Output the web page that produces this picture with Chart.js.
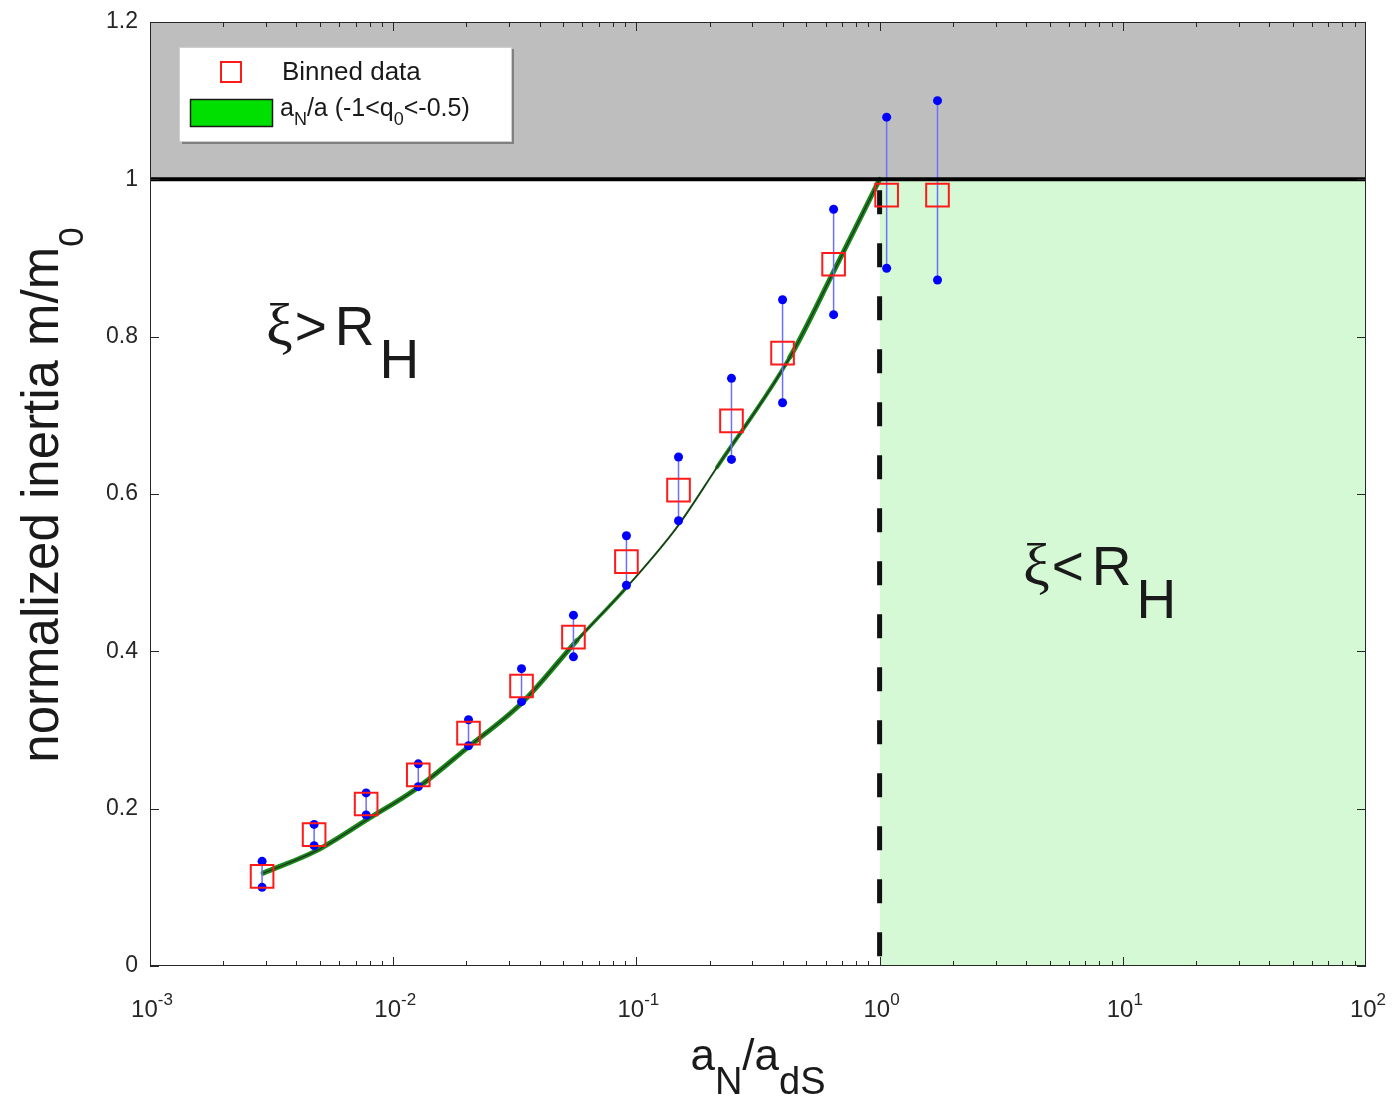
<!DOCTYPE html>
<html lang="en">
<head>
<meta charset="utf-8">
<title>normalized inertia vs a_N/a_dS</title>
<script src="https://cdn.jsdelivr.net/npm/chart.js@4.4.1/dist/chart.umd.min.js"></script>
<style>
  body { margin: 0; background: #fff; }
  #plot { display: block; }
</style>
</head>
<body>
<canvas id="plot" width="1392" height="1102"></canvas>

<script>
  // binned measurements (x = a_N/a_dS, y = m/m0) with error bar ends
  var binX  = [0.00289, 0.00473, 0.00774, 0.01268, 0.0204, 0.0337, 0.0551, 0.0910, 0.149, 0.246, 0.399, 0.647, 1.069, 1.73];
  var binY  = [0.114, 0.167, 0.206, 0.243, 0.296, 0.356, 0.418, 0.514, 0.605, 0.693, 0.779, 0.892, 0.980, 0.980];
  var binHi = [0.133, 0.180, 0.220, 0.257, 0.313, 0.378, 0.446, 0.547, 0.647, 0.747, 0.847, 0.962, 1.079, 1.100];
  var binLo = [0.100, 0.153, 0.192, 0.228, 0.280, 0.336, 0.393, 0.484, 0.566, 0.644, 0.716, 0.828, 0.887, 0.872];

  // model curve a_N/a for -1 < q0 < -0.5
  var curveX = [0.00292, 0.00486, 0.0078, 0.01253, 0.0201, 0.0342, 0.057, 0.0915, 0.1469, 0.2145, 0.428, 0.643, 1.0];
  var curveY = [0.118, 0.147, 0.186, 0.226, 0.277, 0.336, 0.414, 0.482, 0.558, 0.634, 0.774, 0.881, 1.0];

  // axis ticks
  var xTicks = [1e-3, 1e-2, 1e-1, 1, 10, 100];
  var xTickExp = ['-3', '-2', '-1', '0', '1', '2'];
  var yTicks = [0, 0.2, 0.4, 0.6, 0.8, 1, 1.2];
  var yTickLabels = ['0', '0.2', '0.4', '0.6', '0.8', '1', '1.2'];

  var FONT = '"Liberation Sans", Arial, Helvetica, sans-serif';
  var AXIS_COLOR = '#262626';

  function pts(xs, ys) {
    return xs.map(function (v, i) { return { x: v, y: ys[i] }; });
  }

  // error bars: lo/hi pairs separated by gaps
  var errData = [];
  for (var i = 0; i < binX.length; i++) {
    errData.push({ x: binX[i], y: binLo[i] });
    errData.push({ x: binX[i], y: binHi[i] });
    errData.push({ x: binX[i], y: null });
  }

  // green band is wide where the q0 curves split, narrow where they meet
  function bandWidth(x) {
    if (x < 0.04) return 5;
    if (x < 0.07) return 3.5;
    if (x < 0.2) return 2;
    if (x < 0.3) return 4;
    return 5;
  }

  // draw a row of text pieces (for sub/superscripts), returns end x
  function runs(ctx, x, y, parts, measureOnly) {
    parts.forEach(function (p) {
      ctx.font = p.font;
      if (!measureOnly) ctx.fillText(p.t, x, y + (p.dy || 0));
      x += ctx.measureText(p.t).width + (p.gap || 0);
    });
    return x;
  }

  var axesPlugin = {
    id: 'matlabAxes',
    afterDatasetsDraw: function (chart) {
      var ctx = chart.ctx, a = chart.chartArea, xs = chart.scales.x, ys = chart.scales.y;
      ctx.save();
      ctx.strokeStyle = AXIS_COLOR;
      ctx.lineWidth = 1;

      // box
      ctx.strokeRect(a.left + 0.5, a.top + 0.5, a.right - a.left - 1, a.bottom - a.top - 1);

      ctx.beginPath();
      // x major + minor ticks, bottom and top, pointing inward
      for (var d = -3; d < 2; d++) {
        for (var m = 1; m <= 9; m++) {
          var px = Math.round(xs.getPixelForValue(m * Math.pow(10, d))) + 0.5;
          var len = m === 1 ? 9 : 5;
          ctx.moveTo(px, a.bottom); ctx.lineTo(px, a.bottom - len);
          ctx.moveTo(px, a.top); ctx.lineTo(px, a.top + len);
        }
      }
      // y ticks, left and right
      yTicks.forEach(function (v) {
        var py = Math.round(ys.getPixelForValue(v)) + 0.5;
        ctx.moveTo(a.left, py); ctx.lineTo(a.left + 9, py);
        ctx.moveTo(a.right, py); ctx.lineTo(a.right - 9, py);
      });
      ctx.stroke();

      // tick labels
      ctx.fillStyle = AXIS_COLOR;
      ctx.textBaseline = 'middle';
      ctx.textAlign = 'right';
      ctx.font = '23px ' + FONT;
      yTicks.forEach(function (v, i) {
        ctx.fillText(yTickLabels[i], a.left - 12, ys.getPixelForValue(v));
      });

      ctx.textBaseline = 'alphabetic';
      ctx.textAlign = 'left';
      xTicks.forEach(function (v, i) {
        var parts = [
          { t: '10', font: '24px ' + FONT },
          { t: xTickExp[i], font: '17px ' + FONT, dy: -12 }
        ];
        var w = runs(ctx, 0, 0, parts, true);
        runs(ctx, xs.getPixelForValue(v) - w / 2 + 2, 1017, parts);
      });
      ctx.restore();
    },
    afterDraw: function (chart) {
      var ctx = chart.ctx;
      ctx.save();
      ctx.fillStyle = '#1a1a1a';
      ctx.textAlign = 'left';
      ctx.textBaseline = 'alphabetic';

      // x axis title a_N/a_dS
      var xt = [
        { t: 'a', font: '44px ' + FONT },
        { t: 'N', font: '38px ' + FONT, dy: 24 },
        { t: '/a', font: '44px ' + FONT },
        { t: 'dS', font: '38px ' + FONT, dy: 24 }
      ];
      var xw = runs(ctx, 0, 0, xt, true);
      runs(ctx, 758 - xw / 2, 1070, xt);

      // y axis title
      var yt = [
        { t: 'normalized inertia m/m', font: '51px ' + FONT },
        { t: '0', font: '35px ' + FONT, dy: 25 }
      ];
      var yw = runs(ctx, 0, 0, yt, true);
      ctx.save();
      ctx.translate(58, 495);
      ctx.rotate(-Math.PI / 2);
      runs(ctx, -yw / 2, 0, yt);
      ctx.restore();

      // region labels
      function region(x, y, rel) {
        runs(ctx, x, y, [
          { t: '\u03BE', font: '60px "Liberation Serif", serif', gap: 2 },
          { t: rel, font: '55px ' + FONT, gap: 8 },
          { t: 'R', font: '55px ' + FONT, gap: 5 },
          { t: 'H', font: '55px ' + FONT, dy: 33 }
        ]);
      }
      region(266, 345, '>');
      region(1023, 585, '<');

      // legend box
      ctx.fillStyle = '#808080';
      ctx.fillRect(182, 141, 332, 3);
      ctx.fillRect(511, 49, 3, 95);
      ctx.fillStyle = '#ffffff';
      ctx.fillRect(179, 47, 333, 95);
      ctx.strokeStyle = '#cfcfcf';
      ctx.lineWidth = 1;
      ctx.strokeRect(179.5, 47.5, 332, 94);

      ctx.strokeStyle = '#ff1a1a';
      ctx.lineWidth = 2;
      ctx.strokeRect(221, 62, 20, 20);

      ctx.fillStyle = '#00e000';
      ctx.fillRect(190, 99, 83, 28);
      ctx.strokeStyle = '#1a1a1a';
      ctx.lineWidth = 1.5;
      ctx.strokeRect(190.5, 99.5, 82, 27);

      ctx.fillStyle = '#1a1a1a';
      runs(ctx, 282, 80, [{ t: 'Binned data', font: '26px ' + FONT }]);
      runs(ctx, 280, 116, [
        { t: 'a', font: '25px ' + FONT },
        { t: 'N', font: '18px ' + FONT, dy: 9 },
        { t: '/a (-1<q', font: '25px ' + FONT },
        { t: '0', font: '18px ' + FONT, dy: 9 },
        { t: '<-0.5)', font: '25px ' + FONT }
      ]);
      ctx.restore();
    }
  };

  new Chart(document.getElementById('plot'), {
    type: 'scatter',
    data: {
      datasets: [
        {
          label: 'Binned data',
          data: pts(binX, binY),
          pointStyle: 'rect',
          pointRadius: 16,
          borderColor: '#ff1a1a',
          backgroundColor: 'rgba(0,0,0,0)',
          borderWidth: 2,
          order: 1
        },
        {
          label: 'error bars',
          data: errData,
          showLine: true,
          spanGaps: false,
          borderColor: '#6f6fff',
          borderWidth: 1.5,
          pointRadius: 4.5,
          pointBackgroundColor: '#0000ff',
          pointBorderWidth: 0,
          order: 2
        },
        {
          label: 'curve',
          data: pts(curveX, curveY),
          showLine: true,
          cubicInterpolationMode: 'monotone',
          borderColor: '#2a2a2a',
          borderWidth: 1.2,
          pointRadius: 0,
          order: 3
        },
        {
          label: 'a_N/a band',
          data: pts(curveX, curveY),
          showLine: true,
          cubicInterpolationMode: 'monotone',
          borderColor: '#168a16',
          borderWidth: 5,
          borderCapStyle: 'round',
          segment: {
            borderWidth: function (c) { return bandWidth(c.p0.parsed.x); }
          },
          pointRadius: 0,
          order: 4
        },
        {
          label: 'm/m0 = 1',
          data: [{ x: 1e-3, y: 1 }, { x: 1e2, y: 1 }],
          showLine: true,
          borderColor: '#000',
          borderWidth: 4,
          pointRadius: 0,
          order: 0
        },
        {
          label: 'a_N = a_dS',
          data: [{ x: 1, y: 1 }, { x: 1, y: 0 }],
          showLine: true,
          borderColor: '#111',
          borderWidth: 5,
          borderDash: [24, 29],
          borderDashOffset: 42,
          borderCapStyle: 'butt',
          pointRadius: 0,
          order: 5
        },
        {
          label: 'xi < R_H',
          data: [{ x: 1, y: 1 }, { x: 1e2, y: 1 }],
          showLine: true,
          fill: 'origin',
          backgroundColor: '#d4f9d4',
          borderWidth: 0,
          pointRadius: 0,
          order: 10
        },
        {
          label: 'upper',
          data: [{ x: 1e-3, y: 1.2 }, { x: 1e2, y: 1.2 }],
          showLine: true,
          fill: { value: 1 },
          backgroundColor: '#bebebe',
          borderWidth: 0,
          pointRadius: 0,
          order: 11
        }
      ]
    },
    options: {
      responsive: false,
      animation: false,
      devicePixelRatio: 1,
      layout: { padding: { left: 150, right: 26, top: 22, bottom: 136 } },
      plugins: {
        legend: { display: false },
        tooltip: { enabled: false }
      },
      scales: {
        x: { type: 'logarithmic', min: 1e-3, max: 1e2, display: false },
        y: { type: 'linear', min: 0, max: 1.2, display: false }
      }
    },
    plugins: [axesPlugin]
  });
</script>
</body>
</html>
